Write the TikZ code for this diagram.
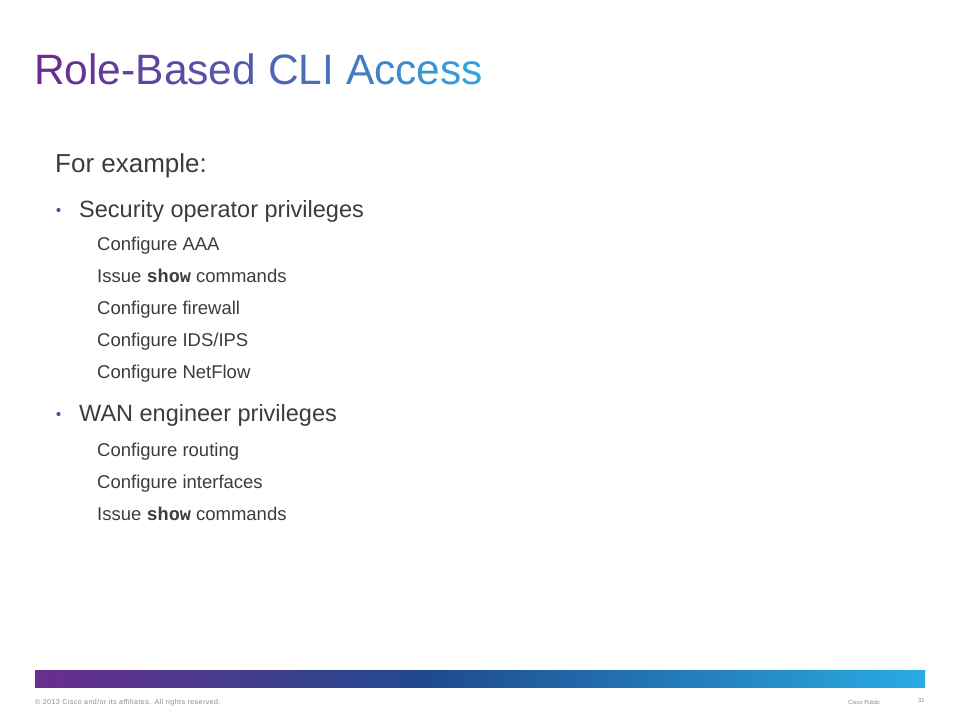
\documentclass[tikz,border=0pt]{standalone}
\usepackage{fontspec}
\setmainfont{Liberation Sans}
\newfontfamily\cmono{Liberation Mono}
\newfontfamily\footfont[LetterSpace=6]{Liberation Sans}
\definecolor{tA}{HTML}{6A2C91}
\definecolor{tB}{HTML}{2FA9E1}
\definecolor{barA}{HTML}{6B2D8F}
\definecolor{barB}{HTML}{1F4A8E}
\definecolor{barC}{HTML}{29ABE3}
\definecolor{bodytxt}{HTML}{3C3C3C}
\definecolor{foot}{HTML}{8A8A8A}
\definecolor{bulletc}{HTML}{5B4A9A}
\newcommand{\tl}[2]{\textcolor{tB!#1!tA}{#2}}
\begin{document}
\begin{tikzpicture}[x=1pt,y=-1pt,
  lvlzero/.style={anchor=base west,inner sep=0pt,text=bodytxt,font=\fontsize{26}{30}\selectfont},
  lvlone/.style={anchor=base west,inner sep=0pt,text=bodytxt,font=\fontsize{23.5}{28}\selectfont},
  lvltwo/.style={anchor=base west,inner sep=0pt,text=bodytxt,font=\fontsize{18.5}{22}\selectfont},
  bulletdot/.style={circle,fill=bulletc,inner sep=0pt,minimum size=4.2pt},
  footer/.style={anchor=base west,inner sep=0pt,text=foot,font=\fontsize{5.8}{8}\selectfont}]
\useasboundingbox (0,0) rectangle (960,720);
\fill[white] (0,0) rectangle (960,720);
% title
\node[anchor=base west,inner sep=0pt,font=\fontsize{42.5}{50}\selectfont] (title) at (34,84)
 {\tl{0}{R}\tl{4}{o}\tl{8}{l}\tl{11}{e}\tl{15}{-}\tl{19}{B}\tl{24}{a}\tl{28}{s}\tl{32}{e}\tl{37}{d} \tl{46}{C}\tl{52}{L}\tl{56}{I} \tl{64}{A}\tl{71}{c}\tl{77}{c}\tl{83}{e}\tl{89}{s}\tl{96}{s}};
% body
\node[lvlzero] (ex) at (55,172) {For example:};
\node[bulletdot] (b1) at (58.5,210) {};
\node[lvlone] (sec) at (79,217) {Security operator privileges};
\node[lvltwo] (s1) at (97,250) {Configure AAA};
\node[lvltwo] (s2) at (97,282) {Issue {\cmono\bfseries show} commands};
\node[lvltwo] (s3) at (97,314) {Configure firewall};
\node[lvltwo] (s4) at (97,346) {Configure IDS/IPS};
\node[lvltwo] (s5) at (97,378) {Configure NetFlow};
\node[bulletdot] (b2) at (58.5,414) {};
\node[lvlone] (wan) at (79,421) {WAN engineer privileges};
\node[lvltwo] (w1) at (97,456) {Configure routing};
\node[lvltwo] (w2) at (97,488) {Configure interfaces};
\node[lvltwo] (w3) at (97,520) {Issue {\cmono\bfseries show} commands};
% bar
\shade[left color=barA,right color=barB] (35,670) rectangle (430.5,687);
\shade[left color=barB,right color=barC] (430,670) rectangle (925,687);
% footer
\node[footer,font=\footfont\fontsize{7.1}{8}\selectfont] (copy) at (35,704) {\textcopyright{} 2013 Cisco and/or its affiliates. All rights reserved.};
\node[footer] (pub) at (848,704) {Cisco Public};
\node[footer] (num) at (918,702) {31};
\end{tikzpicture}
\end{document}
